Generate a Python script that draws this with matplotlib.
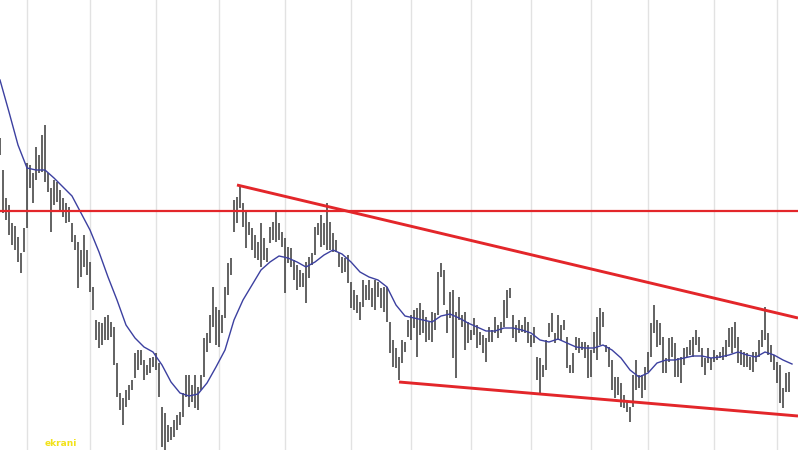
import matplotlib
matplotlib.use("Agg")
import matplotlib.pyplot as plt
import numpy as np

# daily bar highs and lows (one bar per trading session)
highs = [312, 280, 252, 245, 227, 224, 213, 197, 222, 287, 285, 277, 303, 295, 315, 325,
         277, 262, 270, 268, 260, 252, 247, 243, 227, 215, 208, 200, 215, 200, 188, 163,
         130, 128, 127, 133, 135, 128, 123, 87, 57, 52, 60, 65, 70, 97,
         100, 100, 90, 85, 92, 93, 97, 87, 43, 37, 25, 23, 30, 35, 38, 57,
         75, 75, 65, 75, 63, 75, 112, 117, 135, 163, 143, 140, 135, 163, 187, 192,
         250, 253, 265, 247, 238, 228, 222, 215, 208, 227, 212, 202, 223, 228, 238, 227,
         218, 212, 203, 202, 190, 185, 180, 177, 188, 193, 197, 223, 227, 235, 227, 247,
         228, 217, 210, 197, 193, 192, 195, 168, 160, 155, 148, 170, 165, 170, 162, 170,
         168, 162, 163, 163, 128, 110, 102, 93, 110, 108, 130, 135, 140, 142, 147, 140,
         133, 128, 138, 137, 178, 187, 180, 140, 158, 160, 138, 153, 135, 138, 128, 120,
         132, 125, 118, 115, 112, 123, 120, 133, 125, 128, 150, 160, 162, 135, 125, 130,
         125, 133, 128, 115, 123, 93, 92, 85, 110, 127, 137, 117, 135, 125, 130, 113,
         85, 97, 113, 112, 108, 108, 105, 100, 118, 133, 142, 138, 105, 103, 90, 73,
         73, 67, 55, 50, 43, 75, 90, 75, 75, 83, 98, 127, 145, 130, 127, 113,
         92, 112, 113, 107, 92, 93, 102, 103, 110, 113, 120, 113, 102, 92, 102, 92,
         100, 95, 98, 103, 110, 122, 123, 128, 113, 100, 98, 97, 93, 98, 98, 110,
         120, 143, 117, 105, 95, 88, 85, 62, 77, 78]
lows = [295, 237, 230, 215, 205, 200, 188, 177, 198, 222, 262, 247, 270, 277, 278, 268,
        258, 218, 245, 248, 240, 233, 227, 228, 208, 200, 162, 173, 183, 175, 158, 140,
        110, 102, 105, 110, 110, 113, 85, 53, 40, 25, 43, 50, 60, 72,
        80, 85, 70, 75, 77, 83, 80, 53, 3, 0, 8, 10, 13, 20, 25, 33,
        53, 43, 48, 42, 40, 60, 73, 98, 107, 123, 105, 103, 117, 132, 155, 175,
        218, 227, 242, 223, 202, 215, 200, 192, 190, 183, 190, 188, 207, 210, 208, 210,
        203, 157, 187, 183, 170, 160, 163, 163, 147, 172, 185, 195, 215, 203, 205, 200,
        200, 198, 198, 183, 177, 178, 167, 142, 140, 137, 130, 143, 150, 150, 143, 140,
        153, 142, 138, 128, 97, 83, 82, 70, 87, 98, 113, 110, 122, 93, 115, 117,
        108, 110, 108, 120, 135, 173, 145, 117, 132, 92, 72, 130, 123, 100, 107, 110,
        115, 102, 105, 97, 88, 108, 108, 117, 112, 117, 123, 132, 152, 112, 108, 117,
        118, 117, 107, 103, 107, 70, 55, 73, 80, 113, 118, 107, 110, 110, 120, 82,
        77, 77, 100, 97, 100, 92, 72, 73, 97, 90, 105, 123, 98, 83, 60, 52,
        55, 43, 42, 38, 28, 43, 60, 62, 52, 60, 78, 93, 117, 103, 105, 77,
        77, 88, 93, 73, 73, 67, 85, 93, 95, 93, 105, 98, 83, 75, 87, 80,
        88, 90, 92, 90, 93, 103, 97, 102, 87, 85, 83, 83, 80, 78, 88, 93,
        103, 110, 95, 88, 80, 67, 47, 42, 58, 58]

# moving average, read every third bar
ma = [370, 338, 305, 282, 280, 280, 272, 263, 254, 237, 220, 198, 173, 150, 125, 112,
      103, 98, 85, 68, 57, 54, 56, 67, 83, 100, 130, 150, 165, 180, 188, 194,
      192, 188, 183, 188, 195, 200, 196, 188, 178, 173, 170, 163, 145, 134, 132, 130,
      128, 134, 136, 132, 127, 123, 119, 119, 122, 122, 120, 117, 110, 108, 111, 107,
      103, 102, 102, 105, 100, 92, 80, 73, 77, 87, 90, 90, 92, 94, 94, 92,
      93, 95, 98, 95, 93, 98, 95, 90, 86]

# drawn lines: resistance level and the two converging trend lines
resistance = 239
upper_trend = [(79, 265), (266, 132)]
lower_trend = [(133, 68), (266, 34)]

# month boundaries (bar index)
month_starts = [9, 30, 52, 73, 95, 117, 137, 157, 177, 197, 216, 238, 259]

fig = plt.figure(figsize=(7.98, 4.5), dpi=100)
ax = fig.add_axes([0, 0, 1, 1])

for m in month_starts:
    ax.axvline(m, color='#e2e2e2', lw=1.0, zorder=0)

x = np.arange(len(highs))
ax.vlines(x, lows, highs, color='#383838', lw=1.1, zorder=2)

ma_x = np.arange(len(ma)) * 3
ax.plot(ma_x, ma, color='#3c40a0', lw=1.0, zorder=3)

ax.axhline(resistance, color='#e3262a', lw=1.6, zorder=4)
for line in (upper_trend, lower_trend):
    xs, ys = zip(*line)
    ax.plot(xs, ys, color='#e3262a', lw=2.1, zorder=4, solid_capstyle='butt')

ax.text(15, 4, 'ekrani', color='#f2e21a', fontsize=6.5, fontweight='bold')

ax.set_xlim(0, 266)
ax.set_ylim(0, 450)
ax.set_xticks([])
ax.set_yticks([])
for s in ax.spines.values():
    s.set_visible(False)

fig.savefig('out.png', dpi=100)
